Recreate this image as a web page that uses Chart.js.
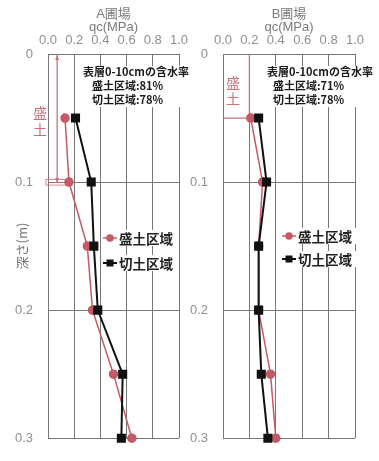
<!DOCTYPE html>
<html lang="ja">
<head>
  <meta charset="UTF-8">
  <script src="https://cdn.jsdelivr.net/npm/chart.js"></script>
  <title>qc profile</title>
  <style>
    body { margin: 0; background: #fff; }
    #wrap { position: relative; width: 379px; height: 461px; }
    canvas { position: absolute; top: 0; }
    #chartA { left: 0; }
    #chartB { left: 190px; }
  </style>
</head>
<body>
  <div id="wrap">
    <canvas id="chartA" width="200" height="461"></canvas>
    <canvas id="chartB" width="189" height="461"></canvas>
  </div>

  <script>
    // depth (m) of each measurement
    const depths = [0.05, 0.1, 0.15, 0.2, 0.25, 0.3];
    // qc (MPa) readings
    const aFill = [0.13, 0.16, 0.30, 0.34, 0.50, 0.64];
    const aCut = [0.21, 0.33, 0.35, 0.38, 0.57, 0.56];
    const bFill = [0.21, 0.30, 0.27, 0.27, 0.36, 0.40];
    const bCut = [0.27, 0.33, 0.27, 0.27, 0.29, 0.34];

    const seriesNames = ['盛土区域', '切土区域'];
    const qcTicks = [0, 0.2, 0.4, 0.6, 0.8, 1.0];
    const depthTicks = [0, 0.1, 0.2, 0.3];
    const noteA = ['表層0-10cmの含水率', '盛土区域:81%', '切土区域:78%'];
    const noteB = ['表層0-10cmの含水率', '盛土区域:71%', '切土区域:78%'];
    // fill layer thickness (m) and qc position of its marker line
    const fillLayerA = 0.1, fillMarkA = 0.07;
    const fillLayerB = 0.05, fillMarkB = 0.2;

    const fam = "'Liberation Sans', 'Noto Sans CJK JP', sans-serif";
    const jp = "'Noto Sans CJK JP', sans-serif";
    const gridColor = '#777';
    const red = '#c45a66';
    const annoRed = '#c9717b';

    function pts(xs) {
      return xs.map((v, i) => ({ x: v, y: depths[i] }));
    }

    const extras = {
      id: 'extras',
      beforeDatasetsDraw(chart, args, o) {
        const { ctx, chartArea: ca, scales: { x, y } } = chart;
        ctx.save();

        // note box
        ctx.font = 'bold 11px ' + jp;
        const w = Math.max(...o.note.map(t => ctx.measureText(t).width)) + 10;
        ctx.fillStyle = '#fff';
        ctx.fillRect(ca.left + o.noteDx - 3, ca.top + 12, w, 41);
        ctx.fillStyle = '#1a1a1a';
        ctx.textBaseline = 'middle';
        o.note.forEach((t, i) => {
          ctx.fillText(t, ca.left + o.noteDx + (i ? o.indent : 0), ca.top + 18 + i * 14);
        });

        // fill layer marker
        const fx = x.getPixelForValue(o.fillMark);
        const fy = y.getPixelForValue(o.fillDepth);
        ctx.strokeStyle = annoRed;
        ctx.fillStyle = annoRed;
        ctx.lineWidth = 1.3;
        ctx.beginPath();
        ctx.moveTo(fx, ca.top);
        ctx.lineTo(fx, fy + (o.closed ? 0 : 1));
        if (o.closed) ctx.lineTo(ca.left, fy);
        ctx.stroke();
        if (!o.closed) {
          ctx.beginPath();
          ctx.moveTo(fx, ca.top + 1); ctx.lineTo(fx - 2, ca.top + 6); ctx.lineTo(fx + 2, ca.top + 6);
          ctx.moveTo(fx, fy + 1); ctx.lineTo(fx - 2, fy - 4); ctx.lineTo(fx + 2, fy - 4);
          ctx.fill();
          ctx.lineWidth = 0.8;
          ctx.strokeRect(ca.left - 2, fy - 2.5, x.getPixelForValue(0.15) - ca.left + 2, 5.5);
        }
        ctx.font = '14px ' + jp;
        ctx.textAlign = 'center';
        ctx.fillStyle = annoRed;
        ctx.fillText('盛', ca.left + o.labelDx, ca.top + o.labelDy);
        ctx.fillText('土', ca.left + o.labelDx, ca.top + o.labelDy + o.labelGap);
        ctx.restore();
      },
      afterDatasetsDraw(chart, args, o) {
        const { ctx, chartArea: ca } = chart;
        ctx.save();
        chart.data.datasets.forEach((ds, i) => {
          const yy = ca.top + o.legendDy + i * o.legendGap;
          const x0 = ca.left + o.legendDx;
          ctx.fillStyle = '#fff';
          ctx.fillRect(x0 - 1, yy - 8, 76, 16);
          ctx.strokeStyle = ds.borderColor;
          ctx.lineWidth = ds.borderWidth;
          ctx.beginPath();
          ctx.moveTo(x0, yy); ctx.lineTo(x0 + 14, yy);
          ctx.stroke();
          ctx.fillStyle = ds.pointBackgroundColor;
          if (ds.pointStyle === 'rect') {
            ctx.fillRect(x0 + 3.5, yy - 3.5, 7, 7);
          } else {
            ctx.beginPath(); ctx.arc(x0 + 7, yy, 3.8, 0, Math.PI * 2); ctx.fill();
          }
          ctx.fillStyle = '#222';
          ctx.font = 'bold 13.5px ' + jp;
          ctx.textBaseline = 'middle';
          ctx.fillText(ds.label, x0 + 16, yy + 1);
        });
        ctx.restore();
      }
    };

    function makeChart(id, name, fill, cut, cfg) {
      return new Chart(document.getElementById(id), {
        type: 'scatter',
        data: {
          datasets: [{
            label: seriesNames[0],
            data: pts(fill),
            showLine: true,
            borderColor: red,
            backgroundColor: red,
            pointBackgroundColor: red,
            pointBorderColor: red,
            pointStyle: 'circle',
            pointRadius: 4,
            borderWidth: 1.5,
            order: 1,
            clip: false
          }, {
            label: seriesNames[1],
            data: pts(cut),
            showLine: true,
            borderColor: '#111',
            backgroundColor: '#111',
            pointBackgroundColor: '#111',
            pointBorderColor: '#111',
            pointStyle: 'rect',
            pointRadius: 5,
            borderWidth: 2,
            order: 0,
            clip: false
          }]
        },
        options: {
          responsive: false,
          animation: false,
          devicePixelRatio: 1,
          layout: { padding: { left: 0, right: cfg.padRight, top: 0, bottom: 9 } },
          plugins: {
            legend: { display: false },
            tooltip: { enabled: false },
            extras: cfg.extras
          },
          scales: {
            x: {
              type: 'linear',
              position: 'top',
              min: 0,
              max: 1,
              afterBuildTicks: s => { s.ticks = qcTicks.map(v => ({ value: v })); },
              afterFit: s => { s.height = 54; },
              ticks: {
                callback: v => v.toFixed(1),
                color: '#8f8f8f',
                font: { size: 13, family: fam },
                padding: 6,
                maxRotation: 0,
                autoSkip: false
              },
              grid: { color: gridColor, drawTicks: false },
              border: { color: gridColor },
              title: {
                display: true,
                text: [name, 'qc(MPa)'],
                color: '#7a7a7a',
                font: { size: 13, family: fam, lineHeight: 1.0 },
                padding: { top: 8, bottom: 0 }
              }
            },
            y: {
              type: 'linear',
              reverse: true,
              min: 0,
              max: 0.3,
              afterBuildTicks: s => { s.ticks = depthTicks.map(v => ({ value: v })); },
              afterFit: s => { s.width = cfg.axisW; },
              ticks: {
                callback: v => v === 0 ? '0' : v.toFixed(1),
                color: '#8f8f8f',
                font: { size: 13, family: fam },
                padding: 15
              },
              grid: { color: gridColor, drawTicks: false },
              border: { color: gridColor },
              title: {
                display: cfg.yTitle,
                text: '深さ(m)',
                color: '#777',
                font: { size: 13, family: jp },
                padding: { top: 14, bottom: 0 }
              }
            }
          }
        },
        plugins: [extras]
      });
    }

    makeChart('chartA', 'A圃場', aFill, aCut, {
      padRight: 21,
      axisW: 48,
      yTitle: true,
      extras: {
        note: noteA, noteDx: 35, indent: 9,
        fillDepth: fillLayerA, fillMark: fillMarkA, closed: false,
        labelDx: -8, labelDy: 59, labelGap: 17,
        legendDx: 55, legendDy: 184, legendGap: 25
      }
    });

    makeChart('chartB', 'B圃場', bFill, bCut, {
      padRight: 24,
      axisW: 33,
      yTitle: false,
      extras: {
        note: noteB, noteDx: 44, indent: 6,
        fillDepth: fillLayerB, fillMark: fillMarkB, closed: true,
        labelDx: 10, labelDy: 29, labelGap: 16,
        legendDx: 59, legendDy: 182, legendGap: 23
      }
    });
  </script>
</body>
</html>
